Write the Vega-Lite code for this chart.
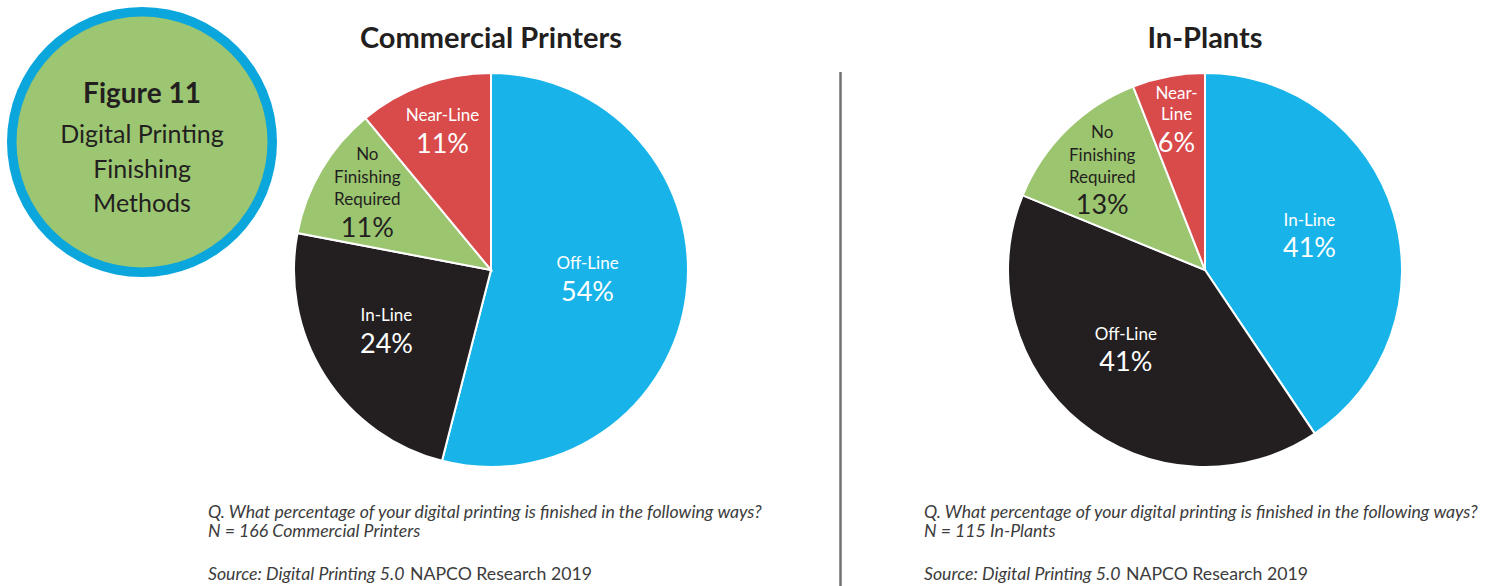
{
  "$schema": "https://vega.github.io/schema/vega-lite/v6.json",
  "background": "white",
  "padding": {"left": 0, "top": 7, "right": 0, "bottom": 0},
  "spacing": 0,
  "bounds": "flush",
  "config": {"view": {"stroke": null}, "font": "Lato", "text": {"baseline": "alphabetic"}},
  "resolve": {"scale": {"theta": "independent", "color": "independent"}},
  "hconcat": [
    {
      "width": 284,
      "height": 140,
      "data": {"values": [{"figure": "Figure 11", "sub": "Digital Printing\nFinishing\nMethods"}]},
      "layer": [
        {"mark": {"type": "arc", "theta": 0, "theta2": 6.2832, "outerRadius": 135, "fill": "#0aa6dc"}, "encoding": {}},
        {"mark": {"type": "arc", "theta": 0, "theta2": 6.2832, "outerRadius": 125.5, "fill": "#9cc672"}, "encoding": {}},
        {"mark": {"type": "text", "font": "Lato", "fontSize": 28, "fontWeight": "bold", "align": "center", "baseline": "alphabetic", "dy": -39, "fill": "#231f20"}, "encoding": {"text": {"field": "figure"}}},
        {"mark": {"type": "text", "font": "Lato", "fontSize": 25, "align": "center", "baseline": "alphabetic", "lineBreak": "\n", "lineHeight": 34.5, "dy": 1, "fill": "#231f20"}, "encoding": {"text": {"field": "sub"}}}
      ]
    },
    {
      "width": 414,
      "height": 396,
      "title": {"text": "Commercial Printers", "font": "Lato", "fontSize": 29, "fontWeight": "bold", "color": "#231f20", "offset": 15},
      "data": {"values": [
        {"name": "Off-Line", "pct": "54%", "value": 54, "order": 1},
        {"name": "In-Line", "pct": "24%", "value": 24, "order": 2},
        {"name": "No\nFinishing\nRequired", "pct": "11%", "value": 11, "order": 3},
        {"name": "Near-Line", "pct": "11%", "value": 11, "order": 4}
      ]},
      "layer": [
        {"mark": {"type": "arc", "outerRadius": 197, "stroke": "white", "strokeWidth": 2}, "encoding": {"theta": {"field": "value", "type": "quantitative", "stack": true}, "color": {"field": "order", "type": "ordinal", "scale": {"domain": [1, 2, 3, 4], "range": ["#18b4e9", "#231f20", "#9cc56f", "#d94a4b"]}, "legend": null}, "order": {"field": "order"}}},
        {"mark": {"type": "text", "font": "Lato", "fontSize": 17, "align": "center", "baseline": "alphabetic", "lineBreak": "\n", "lineHeight": 22.5, "radius": 97.3, "dy": -12.9, "fill": "white"}, "encoding": {"theta": {"field": "value", "type": "quantitative", "stack": true}, "order": {"field": "order"}, "text": {"condition": {"test": "datum.order === 1", "field": "name"}, "value": ""}}},
        {"mark": {"type": "text", "font": "Lato", "fontSize": 27, "align": "center", "baseline": "alphabetic", "radius": 97.3, "dy": 18.8, "fill": "white"}, "encoding": {"theta": {"field": "value", "type": "quantitative", "stack": true}, "order": {"field": "order"}, "text": {"condition": {"test": "datum.order === 1", "field": "pct"}, "value": ""}}},
        {"mark": {"type": "text", "font": "Lato", "fontSize": 17, "align": "center", "baseline": "alphabetic", "lineBreak": "\n", "lineHeight": 22.5, "radius": 123.8, "dy": -15.3, "fill": "white"}, "encoding": {"theta": {"field": "value", "type": "quantitative", "stack": true}, "order": {"field": "order"}, "text": {"condition": {"test": "datum.order === 2", "field": "name"}, "value": ""}}},
        {"mark": {"type": "text", "font": "Lato", "fontSize": 27, "align": "center", "baseline": "alphabetic", "radius": 123.8, "dy": 17, "fill": "white"}, "encoding": {"theta": {"field": "value", "type": "quantitative", "stack": true}, "order": {"field": "order"}, "text": {"condition": {"test": "datum.order === 2", "field": "pct"}, "value": ""}}},
        {"mark": {"type": "text", "font": "Lato", "fontSize": 17, "align": "center", "baseline": "alphabetic", "lineBreak": "\n", "lineHeight": 22.5, "radius": 143.7, "dy": -36.8, "fill": "#231f20"}, "encoding": {"theta": {"field": "value", "type": "quantitative", "stack": true}, "order": {"field": "order"}, "text": {"condition": {"test": "datum.order === 3", "field": "name"}, "value": ""}}},
        {"mark": {"type": "text", "font": "Lato", "fontSize": 27, "align": "center", "baseline": "alphabetic", "radius": 143.7, "dy": 40.2, "fill": "#231f20"}, "encoding": {"theta": {"field": "value", "type": "quantitative", "stack": true}, "order": {"field": "order"}, "text": {"condition": {"test": "datum.order === 3", "field": "pct"}, "value": ""}}},
        {"mark": {"type": "text", "font": "Lato", "fontSize": 17, "align": "center", "baseline": "alphabetic", "lineBreak": "\n", "lineHeight": 22.5, "radius": 143.2, "dy": -14.3, "fill": "white"}, "encoding": {"theta": {"field": "value", "type": "quantitative", "stack": true}, "order": {"field": "order"}, "text": {"condition": {"test": "datum.order === 4", "field": "name"}, "value": ""}}},
        {"mark": {"type": "text", "font": "Lato", "fontSize": 27, "align": "center", "baseline": "alphabetic", "radius": 143.2, "dy": 17.4, "fill": "white"}, "encoding": {"theta": {"field": "value", "type": "quantitative", "stack": true}, "order": {"field": "order"}, "text": {"condition": {"test": "datum.order === 4", "field": "pct"}, "value": ""}}},
        {"data": {"values": [{"q": "Q. What percentage of your digital printing is finished in the following ways?\nN = 166 Commercial Printers", "s": "Source: Digital Printing 5.0", "p": "NAPCO Research 2019"}]},
         "layer": [
          {"mark": {"type": "text", "font": "Lato", "fontSize": 17.7, "fontStyle": "italic", "align": "left", "baseline": "alphabetic", "lineBreak": "\n", "lineHeight": 19, "dx": -76, "dy": 50, "fill": "#3c3c3c"}, "encoding": {"x": {"value": 0}, "y": {"value": "height"}, "text": {"field": "q"}}},
          {"mark": {"type": "text", "font": "Lato", "fontSize": 17.7, "fontStyle": "italic", "align": "left", "baseline": "alphabetic", "dx": -76, "dy": 112, "fill": "#3c3c3c"}, "encoding": {"x": {"value": 0}, "y": {"value": "height"}, "text": {"field": "s"}}},
          {"mark": {"type": "text", "font": "Lato", "fontSize": 17.7, "align": "left", "baseline": "alphabetic", "dx": 126, "dy": 112, "fill": "#3c3c3c"}, "encoding": {"x": {"value": 0}, "y": {"value": "height"}, "text": {"field": "p"}}}
         ]}
      ]
    },
    {
      "width": 285,
      "height": 514,
      "data": {"values": [{"divider": "panel separator"}]},
      "mark": {"type": "rule", "stroke": "#6f6f6f", "strokeWidth": 2.5},
      "encoding": {"y": {"value": 0}, "y2": {"value": "height"}}
    },
    {
      "width": 444,
      "height": 396,
      "title": {"text": "In-Plants", "font": "Lato", "fontSize": 29, "fontWeight": "bold", "color": "#231f20", "offset": 15},
      "data": {"values": [
        {"name": "In-Line", "pct": "41%", "value": 41, "order": 1},
        {"name": "Off-Line", "pct": "41%", "value": 41, "order": 2},
        {"name": "No\nFinishing\nRequired", "pct": "13%", "value": 13, "order": 3},
        {"name": "Near-\nLine", "pct": "6%", "value": 6, "order": 4}
      ]},
      "layer": [
        {"mark": {"type": "arc", "outerRadius": 197, "stroke": "white", "strokeWidth": 2}, "encoding": {"theta": {"field": "value", "type": "quantitative", "stack": true}, "color": {"field": "order", "type": "ordinal", "scale": {"domain": [1, 2, 3, 4], "range": ["#18b4e9", "#231f20", "#9cc56f", "#d94a4b"]}, "legend": null}, "order": {"field": "order"}}},
        {"mark": {"type": "text", "font": "Lato", "fontSize": 17, "align": "center", "baseline": "alphabetic", "lineBreak": "\n", "lineHeight": 22.5, "radius": 109.2, "dy": -12.2, "fill": "white"}, "encoding": {"theta": {"field": "value", "type": "quantitative", "stack": true}, "order": {"field": "order"}, "text": {"condition": {"test": "datum.order === 1", "field": "name"}, "value": ""}}},
        {"mark": {"type": "text", "font": "Lato", "fontSize": 27, "align": "center", "baseline": "alphabetic", "radius": 109.2, "dy": 19.1, "fill": "white"}, "encoding": {"theta": {"field": "value", "type": "quantitative", "stack": true}, "order": {"field": "order"}, "text": {"condition": {"test": "datum.order === 1", "field": "pct"}, "value": ""}}},
        {"mark": {"type": "text", "font": "Lato", "fontSize": 17, "align": "center", "baseline": "alphabetic", "lineBreak": "\n", "lineHeight": 22.5, "radius": 125.3, "dy": -27.1, "fill": "white"}, "encoding": {"theta": {"field": "value", "type": "quantitative", "stack": true}, "order": {"field": "order"}, "text": {"condition": {"test": "datum.order === 2", "field": "name"}, "value": ""}}},
        {"mark": {"type": "text", "font": "Lato", "fontSize": 27, "align": "center", "baseline": "alphabetic", "radius": 125.3, "dy": 3.9, "fill": "white"}, "encoding": {"theta": {"field": "value", "type": "quantitative", "stack": true}, "order": {"field": "order"}, "text": {"condition": {"test": "datum.order === 2", "field": "pct"}, "value": ""}}},
        {"mark": {"type": "text", "font": "Lato", "fontSize": 17, "align": "center", "baseline": "alphabetic", "lineBreak": "\n", "lineHeight": 22.5, "radius": 146.5, "dy": -27.3, "fill": "#231f20"}, "encoding": {"theta": {"field": "value", "type": "quantitative", "stack": true}, "order": {"field": "order"}, "text": {"condition": {"test": "datum.order === 3", "field": "name"}, "value": ""}}},
        {"mark": {"type": "text", "font": "Lato", "fontSize": 27, "align": "center", "baseline": "alphabetic", "radius": 146.5, "dy": 48.4, "fill": "#231f20"}, "encoding": {"theta": {"field": "value", "type": "quantitative", "stack": true}, "order": {"field": "order"}, "text": {"condition": {"test": "datum.order === 3", "field": "pct"}, "value": ""}}},
        {"mark": {"type": "text", "font": "Lato", "fontSize": 17, "align": "center", "baseline": "alphabetic", "lineBreak": "\n", "lineHeight": 21, "radius": 153.5, "dy": -19.9, "fill": "white"}, "encoding": {"theta": {"field": "value", "type": "quantitative", "stack": true}, "order": {"field": "order"}, "text": {"condition": {"test": "datum.order === 4", "field": "name"}, "value": ""}}},
        {"mark": {"type": "text", "font": "Lato", "fontSize": 27, "align": "center", "baseline": "alphabetic", "radius": 153.5, "dy": 32.5, "fill": "white"}, "encoding": {"theta": {"field": "value", "type": "quantitative", "stack": true}, "order": {"field": "order"}, "text": {"condition": {"test": "datum.order === 4", "field": "pct"}, "value": ""}}},
        {"data": {"values": [{"q": "Q. What percentage of your digital printing is finished in the following ways?\nN = 115 In-Plants", "s": "Source: Digital Printing 5.0", "p": "NAPCO Research 2019"}]},
         "layer": [
          {"mark": {"type": "text", "font": "Lato", "fontSize": 17.7, "fontStyle": "italic", "align": "left", "baseline": "alphabetic", "lineBreak": "\n", "lineHeight": 19, "dx": -59, "dy": 50, "fill": "#3c3c3c"}, "encoding": {"x": {"value": 0}, "y": {"value": "height"}, "text": {"field": "q"}}},
          {"mark": {"type": "text", "font": "Lato", "fontSize": 17.7, "fontStyle": "italic", "align": "left", "baseline": "alphabetic", "dx": -59, "dy": 112, "fill": "#3c3c3c"}, "encoding": {"x": {"value": 0}, "y": {"value": "height"}, "text": {"field": "s"}}},
          {"mark": {"type": "text", "font": "Lato", "fontSize": 17.7, "align": "left", "baseline": "alphabetic", "dx": 143, "dy": 112, "fill": "#3c3c3c"}, "encoding": {"x": {"value": 0}, "y": {"value": "height"}, "text": {"field": "p"}}}
         ]}
      ]
    }
  ]
}
